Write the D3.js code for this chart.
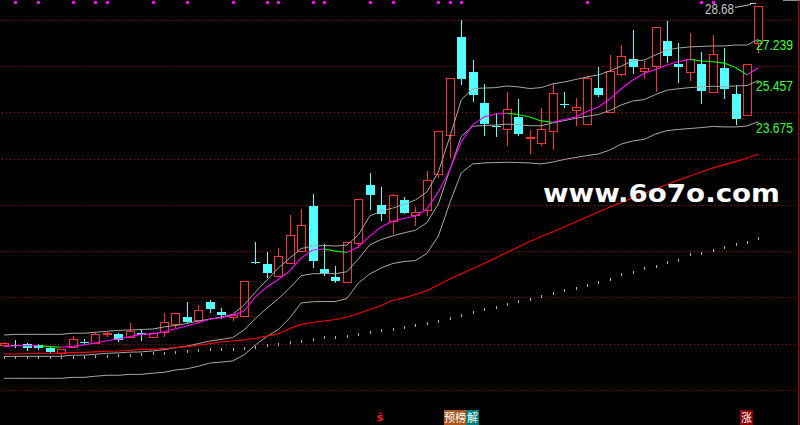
<!DOCTYPE html>
<html><head><meta charset="utf-8">
<script src="https://cdn.jsdelivr.net/npm/d3@7"></script>
<style>html,body{margin:0;padding:0;background:#000;}svg{display:block;}</style>
</head><body>
<svg id="c" width="800" height="425"></svg>
<script>
// ---- data (prices) ----
const open = [14.00,14.02,14.06,14.02,13.89,13.67,13.95,14.17,14.09,14.50,
14.50,14.38,14.53,14.38,14.58,14.91,15.22,15.10,15.88,15.45,
15.22,15.29,17.63,17.52,17.02,17.55,18.10,20.03,17.31,16.97,
16.76,18.42,20.94,20.07,19.37,20.29,19.65,19.84,21.40,23.09,
27.34,25.82,24.48,23.48,23.37,23.88,22.96,22.77,23.26,24.44,
24.19,23.59,25.13,24.08,25.75,26.39,25.88,26.10,27.17,26.17,
25.84,26.17,24.95,25.98,24.87,23.95,27.07];
const high = [14.16,14.24,14.12,14.06,13.95,13.85,14.41,14.28,14.57,14.59,
14.52,14.98,14.67,14.58,15.40,15.39,15.88,15.75,15.97,15.61,
15.30,16.79,18.47,18.04,18.20,19.64,19.89,20.55,18.38,17.44,
18.47,20.32,21.47,20.85,20.55,20.41,19.97,21.54,23.26,25.57,
28.07,26.34,25.31,24.04,24.96,24.66,23.32,24.27,25.35,24.96,
24.70,25.66,26.04,26.56,26.99,27.64,26.30,27.77,28.04,27.09,
27.50,26.68,27.44,26.86,25.26,26.17,28.68];
const low = [13.98,13.95,13.80,13.85,13.69,13.60,13.95,14.05,14.09,14.42,
14.21,14.38,14.24,14.37,14.41,14.81,15.01,15.00,15.46,15.17,
15.10,15.29,17.55,16.97,17.02,17.55,18.10,17.41,17.05,16.74,
16.76,18.26,19.91,19.44,18.85,19.73,19.20,19.64,21.27,22.16,
25.29,24.58,23.10,23.07,22.68,23.10,22.34,22.67,22.48,24.32,
23.55,23.59,24.79,24.08,25.68,25.79,25.55,25.02,26.24,25.41,
25.48,24.50,24.95,24.71,23.56,23.95,26.70];
const close = [14.11,13.96,13.90,13.90,13.73,13.85,14.28,14.15,14.50,14.52,
14.24,14.64,14.47,14.55,15.00,15.39,15.01,15.52,15.58,15.32,
15.30,16.79,17.61,17.15,17.86,18.77,19.20,17.66,17.12,16.80,
18.47,20.32,20.51,19.70,20.51,19.74,19.77,21.14,23.26,25.57,
25.53,24.84,23.59,23.45,24.22,23.14,23.03,23.36,24.90,24.41,
24.31,25.57,24.84,25.87,26.52,26.03,26.01,27.77,26.53,26.05,
26.37,25.02,26.60,25.10,23.81,26.17,28.68];

const bollUpper = [14.45,14.48,14.48,14.48,14.48,14.48,14.53,14.53,14.57,14.61,
14.65,14.67,14.69,14.71,14.80,14.86,14.95,15.06,15.14,15.23,
15.34,15.75,16.31,16.83,17.35,17.78,18.19,18.30,18.32,18.30,
18.34,18.78,19.60,19.81,19.94,20.10,20.29,20.64,21.50,23.01,
24.61,25.11,25.13,25.15,25.22,25.18,25.11,25.15,25.31,25.39,
25.50,25.61,25.70,25.87,26.08,26.30,26.34,26.56,26.78,26.86,
26.91,26.93,26.95,26.95,26.99,26.99,27.239];
const bollMid = [13.52,13.53,13.53,13.53,13.53,13.53,13.58,13.58,13.62,13.66,
13.68,13.71,13.72,13.76,13.82,13.90,13.97,14.08,14.19,14.26,
14.34,14.67,15.17,15.61,16.02,16.49,17.02,17.10,17.11,17.10,
17.19,17.74,18.35,18.58,18.74,18.87,18.98,19.31,20.12,21.59,
23.04,23.48,23.51,23.53,23.57,23.55,23.50,23.50,23.62,23.72,
23.82,23.91,23.99,24.16,24.40,24.57,24.63,24.85,25.04,25.10,
25.15,25.18,25.21,25.20,25.22,25.24,25.457];
const bollLower = [12.58,12.58,12.58,12.58,12.58,12.58,12.62,12.62,12.67,12.71,
12.71,12.75,12.75,12.80,12.84,12.94,12.99,13.10,13.24,13.28,
13.33,13.59,14.02,14.39,14.69,15.19,15.84,15.89,15.90,15.90,
16.03,16.70,17.09,17.35,17.54,17.63,17.67,17.98,18.73,20.16,
21.46,21.85,21.89,21.91,21.92,21.91,21.89,21.85,21.93,22.04,
22.13,22.21,22.28,22.45,22.71,22.84,22.91,23.14,23.29,23.34,
23.38,23.42,23.47,23.45,23.45,23.49,23.675];
const ma5 = [13.95,13.99,13.99,13.99,13.95,13.92,13.96,14.02,14.12,14.20,
14.28,14.38,14.48,14.50,14.59,14.72,14.84,14.98,15.13,15.20,
15.30,15.49,16.10,16.53,16.85,17.22,17.78,18.13,18.17,18.08,
18.02,18.26,18.73,19.12,19.38,19.49,19.60,19.90,20.64,21.59,
22.80,23.55,23.88,24.01,24.04,23.99,23.88,23.71,23.65,23.77,
23.88,24.12,24.31,24.66,25.09,25.48,25.76,25.93,26.13,26.28,
26.37,26.30,26.28,26.21,26.02,25.70,26.01];
const maLong = [13.63,13.63,13.64,13.66,13.66,13.67,13.69,13.70,13.72,13.75,
13.76,13.79,13.83,13.83,13.87,13.90,13.95,14.01,14.08,14.15,
14.19,14.24,14.31,14.41,14.50,14.73,14.91,14.99,15.06,15.12,
15.23,15.38,15.55,15.73,15.94,16.05,16.20,16.38,16.61,16.87,
17.09,17.33,17.54,17.78,18.02,18.26,18.50,18.71,18.91,19.12,
19.34,19.55,19.77,19.99,20.18,20.38,20.57,20.77,20.96,21.15,
21.33,21.50,21.67,21.82,21.95,22.11,22.28];
const maDots = [13.49,13.49,13.49,13.49,13.49,13.49,13.51,13.51,13.53,13.56,
13.60,13.60,13.63,13.66,13.69,13.72,13.76,13.79,13.83,13.86,
13.86,13.90,13.95,14.02,14.08,14.16,14.20,14.29,14.35,14.38,
14.42,14.51,14.59,14.66,14.72,14.81,14.90,14.98,15.07,15.20,
15.33,15.46,15.59,15.68,15.79,15.92,16.03,16.14,16.27,16.38,
16.48,16.61,16.74,16.87,17.09,17.19,17.34,17.45,17.61,17.70,
17.94,18.01,18.13,18.27,18.37,18.49,18.66];
const signalIdx = [1,3,6,8,9,13,16,20,23,24,27,28,32,34,38,39,40,51,61,62];
const gridPrices = [28.07,26.08,24.09,22.06,20.07,18.08,16.10,14.06,12.07];
const highLabel = "28.68";
const watermark = "www.6o7o.com";

// ---- drawing ----
const W = 800, H = 425;
const svg = d3.select('#c');
svg.append('rect').attr('width', W).attr('height', H).attr('fill', '#000');

const n = close.length;
const x = d3.scaleLinear().domain([0, n - 1]).range([4, 758.4]);
const y = d3.scaleLinear().domain([10.56, 28.938]).range([425, 0]);
const px = i => Math.round(x(i));

// grid
svg.append('g').selectAll('line').data(gridPrices).join('line')
  .attr('x1', 2).attr('x2', W)
  .attr('y1', d => Math.round(y(d)) + 0.5).attr('y2', d => Math.round(y(d)) + 0.5)
  .attr('stroke', '#b00000').attr('stroke-width', 1).attr('stroke-dasharray', '1,3');

// top signal markers
svg.append('g').selectAll('rect').data(signalIdx).join('rect')
  .attr('x', d => px(d) - 1).attr('y', 1).attr('width', 3).attr('height', 3)
  .attr('fill', '#ff00ff');

// candles
const UP = '#ff3232', DN = '#54ffff';
const gC = svg.append('g');
d3.range(n).forEach(i => {
  const cx = px(i);
  const yo = y(open[i]), yc = y(close[i]), yh = Math.round(y(high[i])), yl = Math.round(y(low[i]));
  const up = close[i] >= open[i];
  const top = Math.round(Math.min(yo, yc)), bot = Math.round(Math.max(yo, yc));
  const col = up ? UP : DN;
  if (up) {
    if (yh < top) gC.append('line').attr('x1', cx + 0.5).attr('x2', cx + 0.5).attr('y1', yh).attr('y2', top).attr('stroke', col);
    if (yl > bot) gC.append('line').attr('x1', cx + 0.5).attr('x2', cx + 0.5).attr('y1', bot + 1).attr('y2', yl + 1).attr('stroke', col);
    if (bot - top < 1) {
      gC.append('rect').attr('x', cx - 4).attr('y', top).attr('width', 9).attr('height', 1).attr('fill', col);
    } else {
      gC.append('rect').attr('x', cx - 3.5).attr('y', top + 0.5).attr('width', 8).attr('height', bot - top)
        .attr('fill', 'none').attr('stroke', col).attr('stroke-width', 1);
    }
  } else {
    gC.append('line').attr('x1', cx + 0.5).attr('x2', cx + 0.5).attr('y1', yh).attr('y2', yl + 1).attr('stroke', col);
    gC.append('rect').attr('x', cx - 4).attr('y', top).attr('width', 9).attr('height', Math.max(1, bot - top)).attr('fill', col);
  }
});

// indicator lines
const line = d3.line().x((d, i) => x(i)).y(d => y(d));
[bollUpper, bollMid, bollLower].forEach(s => {
  svg.append('path').datum(s).attr('d', line).attr('fill', 'none').attr('stroke', '#a8a8a8').attr('stroke-width', 1);
});
svg.append('path').datum(maLong).attr('d', line).attr('fill', 'none').attr('stroke', '#ff0000').attr('stroke-width', 1.1);

// dotted long MA (ticks)
svg.append('g').selectAll('rect').data(maDots).join('rect')
  .attr('x', (d, i) => px(i)).attr('y', d => Math.round(y(d)) - 1).attr('width', 1).attr('height', 3)
  .attr('fill', '#b0b0b0');

// MA5 colored by direction
const gM = svg.append('g');
for (let i = 1; i < n; i++) {
  gM.append('line').attr('x1', x(i - 1)).attr('y1', y(ma5[i - 1])).attr('x2', x(i)).attr('y2', y(ma5[i]))
    .attr('stroke', ma5[i] < ma5[i - 1] ? '#00ff00' : '#ff00ff').attr('stroke-width', 1.1);
}

// right labels (band values at the last bar)
const last = n - 1;
const labs = [bollUpper[last], bollMid[last], bollLower[last]];
svg.append('g').selectAll('text').data(labs).join('text')
  .attr('x', 756).attr('y', d => y(d) + 10.8)
  .attr('font-family', 'Liberation Sans, Arial, sans-serif').attr('font-size', 14)
  .attr('textLength', 37).attr('lengthAdjust', 'spacingAndGlyphs')
  .attr('fill', '#33ff33').text(d => d3.format('.3f')(d));

// highest price label
const hy = y(high[last]);
svg.append('text').attr('x', 705).attr('y', 14)
  .attr('font-family', 'Liberation Sans, Arial, sans-serif').attr('font-size', 14)
  .attr('textLength', 29).attr('lengthAdjust', 'spacingAndGlyphs')
  .attr('fill', '#c8c8c8').text(highLabel);
svg.append('line').attr('x1', 735).attr('y1', 7.5).attr('x2', 751).attr('y2', hy - 1.5).attr('stroke', '#c8c8c8');
svg.append('line').attr('x1', 750).attr('y1', hy - 2.5).attr('x2', 756).attr('y2', hy - 2.5).attr('stroke', '#c8c8c8');

// frame bits
svg.append('line').attr('x1', 783).attr('x2', 800).attr('y1', 0.5).attr('y2', 0.5).attr('stroke', '#909090');
svg.append('line').attr('x1', 798.5).attr('x2', 798.5).attr('y1', 0).attr('y2', H).attr('stroke', '#c00000');

// watermark
svg.append('text').attr('x', 543).attr('y', 202)
  .attr('font-family', 'DejaVu Sans, sans-serif').attr('font-weight', 'bold').attr('font-size', 25)
  .attr('textLength', 237).attr('lengthAdjust', 'spacingAndGlyphs')
  .attr('fill', '#ffffff').text(watermark);

// bottom marks
const cjk = '"Noto Sans CJK SC", sans-serif';
svg.append('text').attr('x', 380).attr('y', 421).attr('text-anchor', 'middle')
  .attr('font-family', 'DejaVu Sans, sans-serif').attr('font-weight', 'bold').attr('font-size', 11)
  .attr('fill', '#ff2020').text('ŝ');
const tags = [
  {t: '预', x: 444, w: 11, bg: '#a8561c'},
  {t: '榜', x: 455, w: 11, bg: '#a8561c'},
  {t: '解', x: 466, w: 13, bg: '#007a7a'},
  {t: '涨', x: 740, w: 13, bg: '#8b0000'}
];
const gT = svg.append('g');
tags.forEach(d => {
  gT.append('rect').attr('x', d.x).attr('y', 410).attr('width', d.w).attr('height', 15).attr('fill', d.bg);
  gT.append('text').attr('x', d.x + d.w / 2).attr('y', 422).attr('text-anchor', 'middle')
    .attr('font-family', cjk).attr('font-size', 11).attr('fill', '#ffffff').text(d.t);
});
</script>
</body></html>
